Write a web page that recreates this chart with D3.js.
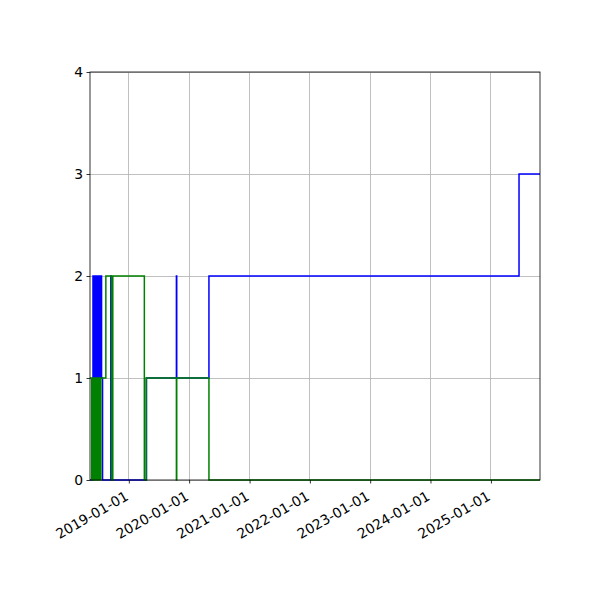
<!DOCTYPE html>
<html lang="en">
<head>
<meta charset="UTF-8">
<script src="https://cdn.jsdelivr.net/npm/d3@7"></script>
<style>
  body { margin: 0; background: white; }
  .grid line { stroke: #b0b0b0; stroke-width: 0.8; shape-rendering: crispEdges; }
</style>
</head>
<body>
<svg id="chart" width="600" height="600"></svg>
<script>
// step series, value holds from its date until the next date
var blueDates = ["2018-05-11", "2018-05-27", "2018-05-29", "2018-06-02", "2018-06-06", "2018-06-10",
    "2018-06-14", "2018-06-18", "2018-06-22", "2018-06-26", "2018-06-30", "2018-07-04", "2018-07-08",
    "2018-07-12", "2018-07-16", "2018-07-20", "2018-07-26", "2018-09-14", "2018-09-18", "2019-04-18",
    "2019-10-16", "2019-10-18", "2020-04-30", "2025-06-20", "2025-10-25"];
var blueValues = [0, 1, 2, 1, 2, 1, 2, 1, 2, 1, 2, 1, 2, 1, 2, 1, 0, 2, 0, 1, 2, 1, 2, 3, 3];

var greenDates = ["2018-05-11", "2018-05-21", "2018-05-29", "2018-06-02", "2018-06-06", "2018-06-10",
    "2018-06-14", "2018-06-18", "2018-06-22", "2018-06-26", "2018-06-30", "2018-07-04", "2018-07-08",
    "2018-07-12", "2018-07-16", "2018-07-20", "2018-08-15", "2018-09-18", "2018-09-26", "2019-04-05",
    "2019-04-16", "2019-10-16", "2019-10-18", "2020-04-30", "2025-10-25"];
var greenValues = [1, 0, 1, 0, 1, 0, 1, 0, 1, 0, 1, 0, 1, 0, 1, 1, 2, 0, 2, 0, 1, 0, 1, 0, 0];

var xStart = "2018-05-11", xEnd = "2025-10-25";
var xTicks = ["2019-01-01", "2020-01-01", "2021-01-01", "2022-01-01", "2023-01-01", "2024-01-01", "2025-01-01"];
var yTicks = [0, 1, 2, 3, 4];

var parse = d3.timeParse("%Y-%m-%d");
var fmt = d3.timeFormat("%Y-%m-%d");
var FONT = "DejaVu Sans";

var margin = { top: 72, right: 60, bottom: 120, left: 90 };
var width = 600 - margin.left - margin.right;
var height = 600 - margin.top - margin.bottom;

var svg = d3.select("#chart");
var g = svg.append("g").attr("transform", "translate(" + margin.left + "," + margin.top + ")");

var x = d3.scaleTime().domain([parse(xStart), parse(xEnd)]).range([0, width]);
var y = d3.scaleLinear().domain([0, 4]).range([height, 0]);

// grid
g.append("g").attr("class", "grid")
    .selectAll("line").data(xTicks).enter().append("line")
    .attr("x1", function(d) { return x(parse(d)); })
    .attr("x2", function(d) { return x(parse(d)); })
    .attr("y1", 0).attr("y2", height);
g.append("g").attr("class", "grid")
    .selectAll("line").data(yTicks).enter().append("line")
    .attr("x1", 0).attr("x2", width)
    .attr("y1", function(d) { return y(d); })
    .attr("y2", function(d) { return y(d); });

g.append("clipPath").attr("id", "clip")
    .append("rect").attr("x", 0).attr("y", -2).attr("width", width).attr("height", height + 4);

var line = d3.line()
    .curve(d3.curveStepAfter)
    .x(function(d) { return x(d[0]); })
    .y(function(d) { return y(d[1]); });

function pairs(dates, values) {
    return dates.map(function(d, i) { return [parse(d), values[i]]; });
}

g.append("path").datum(pairs(blueDates, blueValues))
    .attr("clip-path", "url(#clip)")
    .attr("fill", "none").attr("stroke", "blue").attr("stroke-width", 1.5)
    .attr("d", line);
g.append("path").datum(pairs(greenDates, greenValues))
    .attr("clip-path", "url(#clip)")
    .attr("fill", "none").attr("stroke", "green").attr("stroke-width", 1.5)
    .attr("d", line);

// axes
var xAxis = d3.axisBottom(x)
    .tickValues(xTicks.map(parse))
    .tickFormat(fmt)
    .tickSizeInner(3.5).tickSizeOuter(0).tickPadding(3.5);
var gx = g.append("g").attr("transform", "translate(0," + height + ")").call(xAxis)
    .attr("font-family", FONT);
gx.select(".domain").remove();
gx.selectAll(".tick line").attr("stroke", "#000").attr("stroke-width", 0.8);
gx.selectAll(".tick text")
    .attr("font-size", 13.9)
    .attr("fill", "#000")
    .attr("text-anchor", "end")
    .attr("y", 0).attr("dy", 0)
    .attr("transform", "translate(0,19) rotate(-30)");

var yAxis = d3.axisLeft(y)
    .tickValues(yTicks)
    .tickFormat(d3.format("d"))
    .tickSizeInner(3.5).tickSizeOuter(0).tickPadding(3.5);
var gy = g.append("g").call(yAxis).attr("font-family", FONT);
gy.select(".domain").remove();
gy.selectAll(".tick line").attr("stroke", "#000").attr("stroke-width", 0.8);
gy.selectAll(".tick text").attr("font-size", 13.9).attr("fill", "#000");

// spines
g.append("rect")
    .attr("x", 0).attr("y", 0).attr("width", width).attr("height", height)
    .attr("fill", "none").attr("stroke", "#000").attr("stroke-width", 0.8);
</script>
</body>
</html>
